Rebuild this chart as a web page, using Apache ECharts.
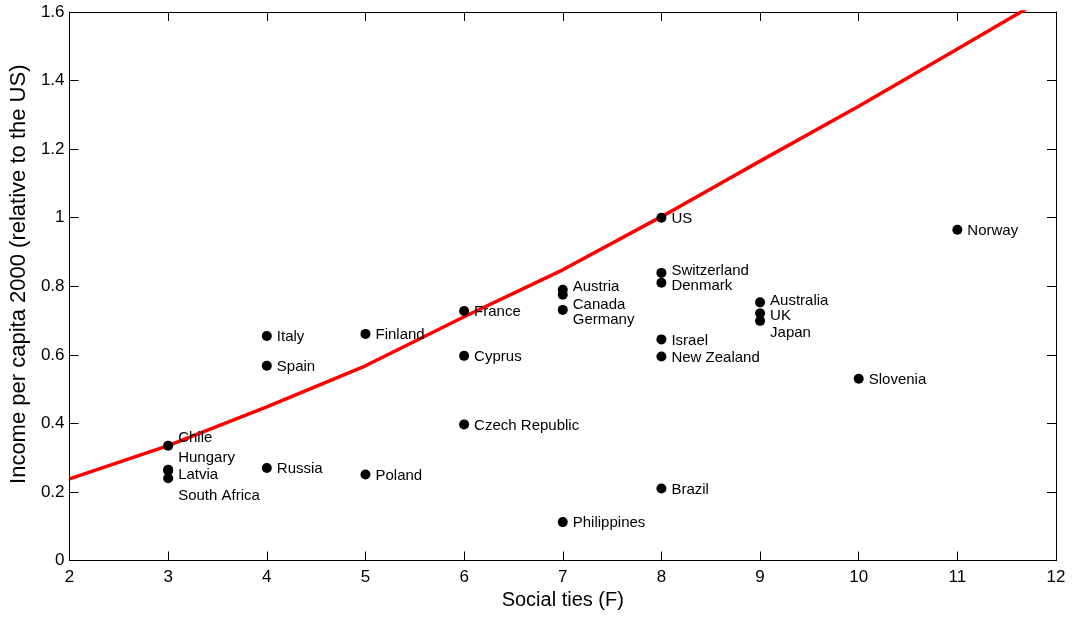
<!DOCTYPE html>
<html><head><meta charset="utf-8">
<script src="https://cdn.jsdelivr.net/npm/echarts@6/dist/echarts.min.js"></script>
<style>html,body{margin:0;padding:0;background:#fff}#c{width:1073px;height:617px}</style>
</head><body><div id="c"></div>
<script>
// ---- data ----
const countries = ["Chile","Hungary","Latvia","South Africa","Italy","Spain","Russia","Finland","Poland","France","Cyprus","Czech Republic","Austria","Canada","Germany","Philippines","US","Switzerland","Denmark","Israel","New Zealand","Brazil","Australia","UK","Japan","Slovenia","Norway"];
const socialTies = [3,3,3,3,4,4,4,5,5,6,6,6,7,7,7,7,8,8,8,8,8,8,9,9,9,10,11];
const income = [0.335,0.265,0.262,0.240,0.655,0.568,0.270,0.661,0.251,0.728,0.597,0.397,0.790,0.775,0.731,0.112,1.000,0.839,0.810,0.645,0.595,0.210,0.753,0.721,0.699,0.530,0.965];
const curveX = [2,3,4,5,6,7,8,9,10,11,12];
const curveY = [0.238,0.335,0.448,0.568,0.711,0.848,1.003,1.165,1.325,1.492,1.66];
const xTicks = [2,3,4,5,6,7,8,9,10,11,12];
const yTicks = [0,0.2,0.4,0.6,0.8,1,1.2,1.4,1.6];
// label vertical shifts (px) to avoid overlaps
const labelShift = {"Chile":-9,"Hungary":-13,"Latvia":3,"South Africa":17,"Austria":-4,"Canada":9,"Germany":9,"Switzerland":-3,"Denmark":2,"Australia":-3,"UK":2,"Japan":11};

const FONT = "Liberation Sans, Arial, sans-serif";
const pts = countries.map((n,i)=>({
  value:[socialTies[i], income[i]], name:n,
  label:{offset:[0, (labelShift[n]||0)+1]}
}));
const chart = echarts.init(document.getElementById('c'));
const axisCommon = {
  axisLine:{show:true,onZero:false,lineStyle:{color:'#000',width:1}},
  axisTick:{show:true,inside:true,length:9,lineStyle:{color:'#000'}},
  splitLine:{show:false}
};
chart.setOption({
  animation:false,
  backgroundColor:'#fff',
  grid:{left:68,top:12,right:17,bottom:56.5,containLabel:false},
  xAxis:[
    Object.assign({type:'value',min:2,max:12,interval:1,position:'bottom',
      name:'Social ties (F)',nameLocation:'middle',nameGap:29,
      nameTextStyle:{fontFamily:FONT,fontSize:20,color:'#000'},
      axisLabel:{fontFamily:FONT,fontSize:17,color:'#000',margin:8}},axisCommon),
    Object.assign({type:'value',min:2,max:12,interval:1,position:'top',
      axisLabel:{show:false}},axisCommon)
  ],
  yAxis:[
    Object.assign({type:'value',min:0,max:1.6,interval:0.2,position:'left',
      name:'Income per capita 2000 (relative to the US)',nameLocation:'middle',nameGap:38,
      nameTextStyle:{fontFamily:FONT,fontSize:22,color:'#000',padding:[0,0,0,24]},
      axisLabel:{fontFamily:FONT,fontSize:17,color:'#000',margin:5,
        formatter:v=>{const t=yTicks.find(k=>Math.abs(k-v)<1e-9);return t===undefined?'':String(t);}}},axisCommon),
    Object.assign({type:'value',min:0,max:1.6,interval:0.2,position:'right',
      axisLabel:{show:false}},axisCommon)
  ],
  series:[
    {type:'line',data:curveX.map((x,i)=>[x,curveY[i]]),showSymbol:false,symbol:'none',
     lineStyle:{color:'#ff0000',width:3.5},clip:true,z:2,silent:true},
    {type:'scatter',data:pts,symbol:'circle',symbolSize:10,
     itemStyle:{color:'#000',opacity:1},z:3,
     label:{show:true,position:'right',distance:5,formatter:p=>p.name,
       fontFamily:FONT,fontSize:15,color:'#000'}}
  ]
});
</script></body></html>
